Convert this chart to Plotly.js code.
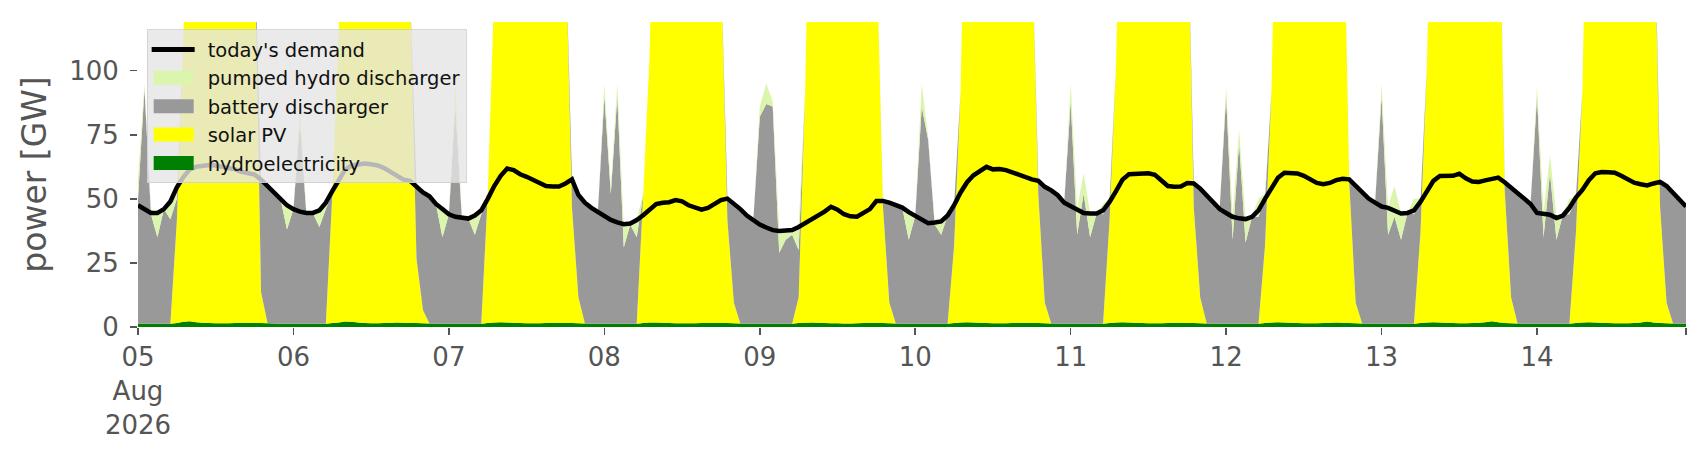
<!DOCTYPE html>
<html>
<head>
<meta charset="utf-8">
<script src="https://cdn.plot.ly/plotly-3.0.1.min.js"></script>
<style>
  html, body { margin: 0; padding: 0; background: #ffffff; }
  #chart { width: 1706px; height: 460px; }
</style>
</head>
<body>
<div id="chart"></div>
<script>
// ---- data (hourly, 05 Aug 2026 00:00 .. 14 Aug 2026 23:00), GW ----
const days = ["05", "06", "07", "08", "09", "10", "11", "12", "13", "14"];

const demand = [
  47.5, 46, 44.5, 44.5, 46, 49, 54.5, 58.5, 61.5, 62.5, 63, 63.2, 63, 62.5, 62, 61.5, 60.5, 60, 59.5, 57.5, 55, 52.5, 50, 47.5,
  46, 45, 44.5, 44.5, 45.5, 48.5, 53, 57.5, 61.5, 63, 63.5, 63.8, 63.5, 63, 62, 60.5, 59.2, 57.5, 57, 54.5, 52.5, 51, 48, 46,
  44, 43, 42.5, 42.3, 43.5, 45.5, 50, 55, 59, 61.8, 61.2, 59.6, 58.6, 57.3, 56.2, 55, 54.8, 54.8, 56, 57.6, 51.5, 48.5, 46.5, 44.8,
  43, 41.8, 40.8, 40.1, 40.4, 41.7, 43.6, 46, 48, 48.5, 48.7, 49.5, 49, 47.5, 46.5, 45.8, 46.5, 48, 49.5, 50.1, 48.2, 46, 43.5, 41.7,
  40, 38.8, 37.8, 37.5, 37.5, 37.8, 39, 40.5, 41.7, 43.6, 45, 46.9, 45.8, 44, 43.2, 43, 44.3, 46, 49.2, 49.2, 48.5, 47.5, 46.6, 44.8,
  43.3, 42.3, 40.5, 40.8, 41.2, 43.5, 47.5, 52.5, 56.5, 59.2, 60.9, 62.5, 61.5, 61.6, 61.2, 60.3, 59, 58.2, 57.6, 57, 54.7, 53.3, 51.4, 48.5,
  47.2, 46.2, 44.5, 44.3, 44.3, 45.5, 48.8, 53, 57.5, 59.6, 59.7, 60, 60, 59.4, 57, 55, 54.7, 54.8, 56.2, 56, 54, 51.5, 48.8, 46,
  44.5, 43, 42.4, 42.1, 43, 45.5, 50, 54.5, 58.2, 60.2, 59.9, 59.9, 59, 57.6, 56.2, 55.7, 56.2, 57.3, 57.8, 57.6, 55, 52.7, 50.1, 48.5,
  47, 46.5, 45.5, 44.3, 44.5, 45.5, 48.8, 53, 57, 58.9, 58.9, 59, 59.8, 58, 56.8, 56.6, 57.2, 57.8, 58.3, 56.5, 54.5, 52.5, 50, 48,
  44.5, 44, 43.8, 42.5, 43.5, 46.5, 50.5, 53.5, 57.3, 60, 60.5, 60.4, 60.2, 59, 57.5, 56.3, 55.7, 55.2, 56, 56.6, 55, 52.5, 50, 47
];

const hydro = [
  1.3, 1.3, 1.3, 1.3, 1.3, 1.3, 1.6, 2.0, 2.2, 1.9, 1.7, 1.6, 1.5, 1.5, 1.5, 1.6, 1.7, 1.7, 1.6, 1.6, 1.5, 1.4, 1.3, 1.3,
  1.3, 1.3, 1.3, 1.3, 1.3, 1.3, 1.6, 1.8, 2.1, 2.0, 1.8, 1.6, 1.5, 1.5, 1.6, 1.7, 1.8, 1.7, 1.6, 1.6, 1.5, 1.4, 1.3, 1.3,
  1.3, 1.3, 1.3, 1.3, 1.3, 1.3, 1.6, 1.8, 1.9, 1.8, 1.7, 1.6, 1.5, 1.5, 1.5, 1.6, 1.7, 1.7, 1.6, 1.6, 1.5, 1.4, 1.3, 1.3,
  1.3, 1.3, 1.3, 1.3, 1.3, 1.3, 1.6, 1.8, 1.8, 1.7, 1.6, 1.5, 1.5, 1.5, 1.5, 1.6, 1.6, 1.6, 1.6, 1.6, 1.5, 1.4, 1.3, 1.3,
  1.3, 1.3, 1.3, 1.3, 1.3, 1.3, 1.6, 1.7, 1.8, 1.7, 1.6, 1.5, 1.5, 1.4, 1.4, 1.5, 1.6, 1.7, 1.6, 1.6, 1.5, 1.4, 1.3, 1.3,
  1.3, 1.3, 1.3, 1.3, 1.3, 1.3, 1.6, 1.8, 1.9, 1.8, 1.7, 1.6, 1.5, 1.5, 1.5, 1.6, 1.7, 1.7, 1.6, 1.6, 1.5, 1.4, 1.3, 1.3,
  1.3, 1.3, 1.3, 1.3, 1.3, 1.3, 1.6, 1.8, 1.9, 1.8, 1.7, 1.6, 1.5, 1.5, 1.5, 1.6, 1.7, 1.7, 1.6, 1.6, 1.5, 1.4, 1.3, 1.3,
  1.3, 1.3, 1.3, 1.3, 1.3, 1.3, 1.6, 1.8, 1.9, 1.8, 1.7, 1.6, 1.5, 1.5, 1.5, 1.6, 1.7, 1.8, 1.7, 1.6, 1.5, 1.4, 1.3, 1.3,
  1.3, 1.3, 1.3, 1.3, 1.3, 1.3, 1.6, 1.8, 1.9, 1.8, 1.7, 1.6, 1.5, 1.5, 1.6, 1.7, 1.9, 2.2, 1.9, 1.6, 1.5, 1.4, 1.3, 1.3,
  1.3, 1.3, 1.3, 1.3, 1.3, 1.3, 1.6, 1.8, 1.9, 1.8, 1.7, 1.6, 1.5, 1.5, 1.5, 1.6, 1.8, 2.1, 1.8, 1.6, 1.5, 1.4, 1.3, 1.3
];

const solar = [
  0, 0, 0, 0, 0, 0, 40, 110, 220, 245, 255, 260, 262, 258, 250, 235, 210, 180, 150, 12, 0, 0, 0, 0,
  0, 0, 0, 0, 0, 0, 50, 115, 220, 245, 255, 262, 260, 255, 245, 230, 205, 175, 130, 25, 5, 0, 0, 0,
  0, 0, 0, 0, 0, 0, 50, 130, 220, 245, 255, 260, 258, 252, 245, 232, 210, 180, 150, 45, 10, 0, 0, 0,
  0, 0, 0, 0, 0, 0, 50, 105, 220, 240, 250, 255, 255, 250, 240, 228, 205, 175, 140, 40, 8, 0, 0, 0,
  0, 0, 0, 0, 0, 0, 10, 90, 220, 240, 250, 255, 255, 250, 242, 230, 208, 178, 150, 46, 8, 0, 0, 0,
  0, 0, 0, 0, 0, 0, 30, 90, 220, 242, 252, 258, 258, 252, 244, 232, 210, 180, 150, 50, 8, 0, 0, 0,
  0, 0, 0, 0, 0, 0, 40, 100, 220, 242, 252, 258, 258, 252, 244, 232, 212, 190, 170, 45, 10, 0, 0, 0,
  0, 0, 0, 0, 0, 0, 30, 90, 220, 242, 252, 258, 258, 252, 244, 234, 215, 198, 185, 55, 8, 0, 0, 0,
  0, 0, 0, 0, 0, 0, 35, 100, 220, 242, 252, 258, 258, 254, 246, 236, 222, 210, 200, 52, 10, 0, 0, 0,
  0, 0, 0, 0, 0, 0, 35, 90, 220, 242, 252, 258, 258, 252, 244, 232, 212, 195, 180, 45, 8, 0, 0, 0
];

const battery = [
  48.7, 91.7, 42.7, 33.7, 44.7, 40.7, 8.4, 0, 0, 0, 0, 0, 0, 0, 0, 0, 0, 0, 0, 43.9, 53.5, 51.1, 48.7, 36.7,
  44.7, 78.7, 42.7, 43.2, 37.7, 44.7, 0.4, 0, 0, 0, 0, 0, 0, 0, 0, 0, 0, 0, 0, 27.9, 46, 49.6, 46.7, 33.7,
  42.7, 84.7, 41.2, 41, 34.7, 42.7, 0, 0, 0, 0, 0, 0, 0, 0, 0, 0, 0, 0, 0, 11, 40, 47.1, 45.2, 43.5,
  88.7, 50.7, 88.7, 29.7, 38.7, 33.7, 0, 0, 0, 0, 0, 0, 0, 0, 0, 0, 0, 0, 0, 8.5, 38.7, 44.6, 42.2, 40.4,
  80.7, 85.7, 84.7, 27.7, 32.7, 34.7, 18.4, 0, 0, 0, 0, 0, 0, 0, 0, 0, 0, 0, 0, 1.6, 39, 46.1, 45.3, 32.7,
  42, 84.7, 71.7, 38.7, 34.7, 42.2, 15.9, 0, 0, 0, 0, 0, 0, 0, 0, 0, 0, 0, 0, 5.4, 45.2, 51.9, 50.1, 47.2,
  86.7, 34.7, 50.7, 33.7, 43, 42.7, 7.2, 0, 0, 0, 0, 0, 0, 0, 0, 0, 0, 0, 0, 9.4, 42.5, 50.1, 47.5, 44.7,
  88.7, 32.7, 70.7, 31.7, 41.7, 41.7, 18.4, 0, 0, 0, 0, 0, 0, 0, 0, 0, 0, 0, 0, 1, 45.5, 51.3, 48.8, 47.2,
  88.7, 34.7, 41.7, 32.7, 43.2, 42.7, 12.2, 0, 0, 0, 0, 0, 0, 0, 0, 0, 0, 0, 0, 2.9, 43, 51.1, 48.7, 46.7,
  88.7, 33.7, 58.7, 32.7, 42.7, 42.7, 13.9, 0, 0, 0, 0, 0, 0, 0, 0, 0, 0, 0, 0, 10, 45.5, 51.1, 48.7, 45.7
];

const pumped = [
  8, 2, 2, 9, 1, 7, 3, 0, 0, 0, 0, 0, 0, 0, 0, 0, 0, 0, 0, 0, 0, 0, 0, 9.5,
  0, 6, 1, 0, 6.5, 2.5, 1, 0, 0, 0, 0, 0, 0, 0, 0, 0, 0, 0, 0, 0, 0, 0, 0, 11,
  0, 9, 0.5, 0.2, 7.5, 3, 0, 0, 0, 0, 0, 0, 0, 0, 0, 0, 0, 0, 0, 0, 0, 0, 0, 0,
  5, 3, 5, 9, 0.4, 7, 0.5, 0, 0, 0, 0, 0, 0, 0, 0, 0, 0, 0, 0, 0, 0, 0, 0, 0,
  4, 8, 2, 9, 3.5, 2, 9, 0, 0, 0, 0, 0, 0, 0, 0, 0, 0, 0, 0, 0, 0, 0, 0, 10.8,
  0, 9, 1, 1, 5.2, 0.5, 0.5, 0, 0, 0, 0, 0, 0, 0, 0, 0, 0, 0, 0, 0, 0, 0, 0, 0,
  7, 10.2, 8, 9.3, 0, 4, 1.2, 0, 0, 0, 0, 0, 0, 0, 0, 0, 0, 0, 0, 0, 0, 0, 0, 0,
  4, 9.5, 5, 9.5, 0.5, 7, 2, 0, 0, 0, 0, 0, 0, 0, 0, 0, 0, 0, 0, 0, 0, 0, 0, 0,
  5, 11, 12, 10.3, 0, 6, 1.2, 0, 0, 0, 0, 0, 0, 0, 0, 0, 0, 0, 0, 0, 0, 0, 0, 0,
  4, 10, 7, 9, 0, 6, 0.5, 0, 0, 0, 0, 0, 0, 0, 0, 0, 0, 0, 0, 0, 0, 0, 0, 0
];

const tickDays = ["05", "06", "07", "08", "09", "10", "11", "12", "13", "14"];
const tickLabels = ["05<br>Aug<br>2026", "06", "07", "08", "09", "10", "11", "12", "13", "14"];

// ---- hourly timestamps ----
const times = [];
days.forEach(d => {
  for (let h = 0; h < 24; h++) {
    times.push("2026-08-" + d + " " + String(h).padStart(2, "0") + ":00");
  }
});

const tickvals = tickDays.map(d => "2026-08-" + d + " 00:00").concat(["2026-08-14 23:00"]);
const ticktext = tickLabels.concat([""]);

const FONT = "DejaVu Sans, Verdana, sans-serif";

function area(name, y, color, rank) {
  return {
    type: "scatter", x: times, y: y, name: name,
    stackgroup: "supply", mode: "none",
    fillcolor: color, line: { width: 0, shape: "linear" },
    legendgroup: name, legendrank: rank, hoverinfo: "skip"
  };
}

const traces = [
  area("hydroelectricity", hydro, "#008000", 5),
  area("solar PV", solar, "#ffff00", 4),
  area("battery discharger", battery, "#999999", 3),
  area("pumped hydro discharger", pumped, "#dbf5ac", 2),
  {
    type: "scatter", x: times, y: demand, name: "today's demand",
    mode: "lines", line: { color: "#000000", width: 4.5, shape: "linear" },
    legendgroup: "demand", legendrank: 1, hoverinfo: "skip"
  }
];

const layout = {
  width: 1706, height: 460,
  margin: { l: 138, r: 20, t: 22, b: 133, pad: 0 },
  paper_bgcolor: "#ffffff", plot_bgcolor: "#ffffff",
  font: { family: FONT, color: "#555555", size: 26 },
  showlegend: true,
  legend: {
    x: 0.0056, y: 0.976, xanchor: "left", yanchor: "top",
    bgcolor: "rgba(229,229,229,0.8)", bordercolor: "rgba(205,205,205,0.8)", borderwidth: 1,
    font: { family: FONT, size: 19.5, color: "#111111" },
    traceorder: "grouped", tracegroupgap: 0, itemwidth: 50
  },
  xaxis: {
    type: "date",
    range: ["2026-08-05 00:00", "2026-08-14 23:00"],
    tickmode: "array", tickvals: tickvals, ticktext: ticktext,
    ticks: "outside", ticklen: 7, tickwidth: 1.5, tickcolor: "#555555",
    tickfont: { family: FONT, size: 26, color: "#555555" },
    showgrid: false, zeroline: false, showline: false
  },
  yaxis: {
    range: [0, 119],
    tickmode: "array", tickvals: [0, 25, 50, 75, 100],
    ticks: "outside", ticklen: 7, tickwidth: 1.5, tickcolor: "#555555",
    ticklabelstandoff: 6,
    tickfont: { family: FONT, size: 26, color: "#555555" },
    showgrid: false, zeroline: false, showline: false,
    title: { text: "power [GW]", font: { family: FONT, size: 33, color: "#555555" }, standoff: 12 }
  }
};

Plotly.newPlot("chart", traces, layout, { displayModeBar: false, staticPlot: true }).then(gd => {
  // matplotlib-style legend handles: wide filled rectangles and a thick line
  gd.querySelectorAll(".legend .traces").forEach(tr => {
    const fill = tr.querySelector("path.js-fill");
    if (fill && fill.getAttribute("d")) {
      fill.setAttribute("d", "M6,-7h40v14h-40z");
    }
    const line = tr.querySelector("path.js-line");
    if (line && line.getAttribute("d") && !(fill && fill.getAttribute("d"))) {
      line.setAttribute("d", "M4,0h43");
      line.style.strokeWidth = "5px";
    }
  });
});
</script>
</body>
</html>
